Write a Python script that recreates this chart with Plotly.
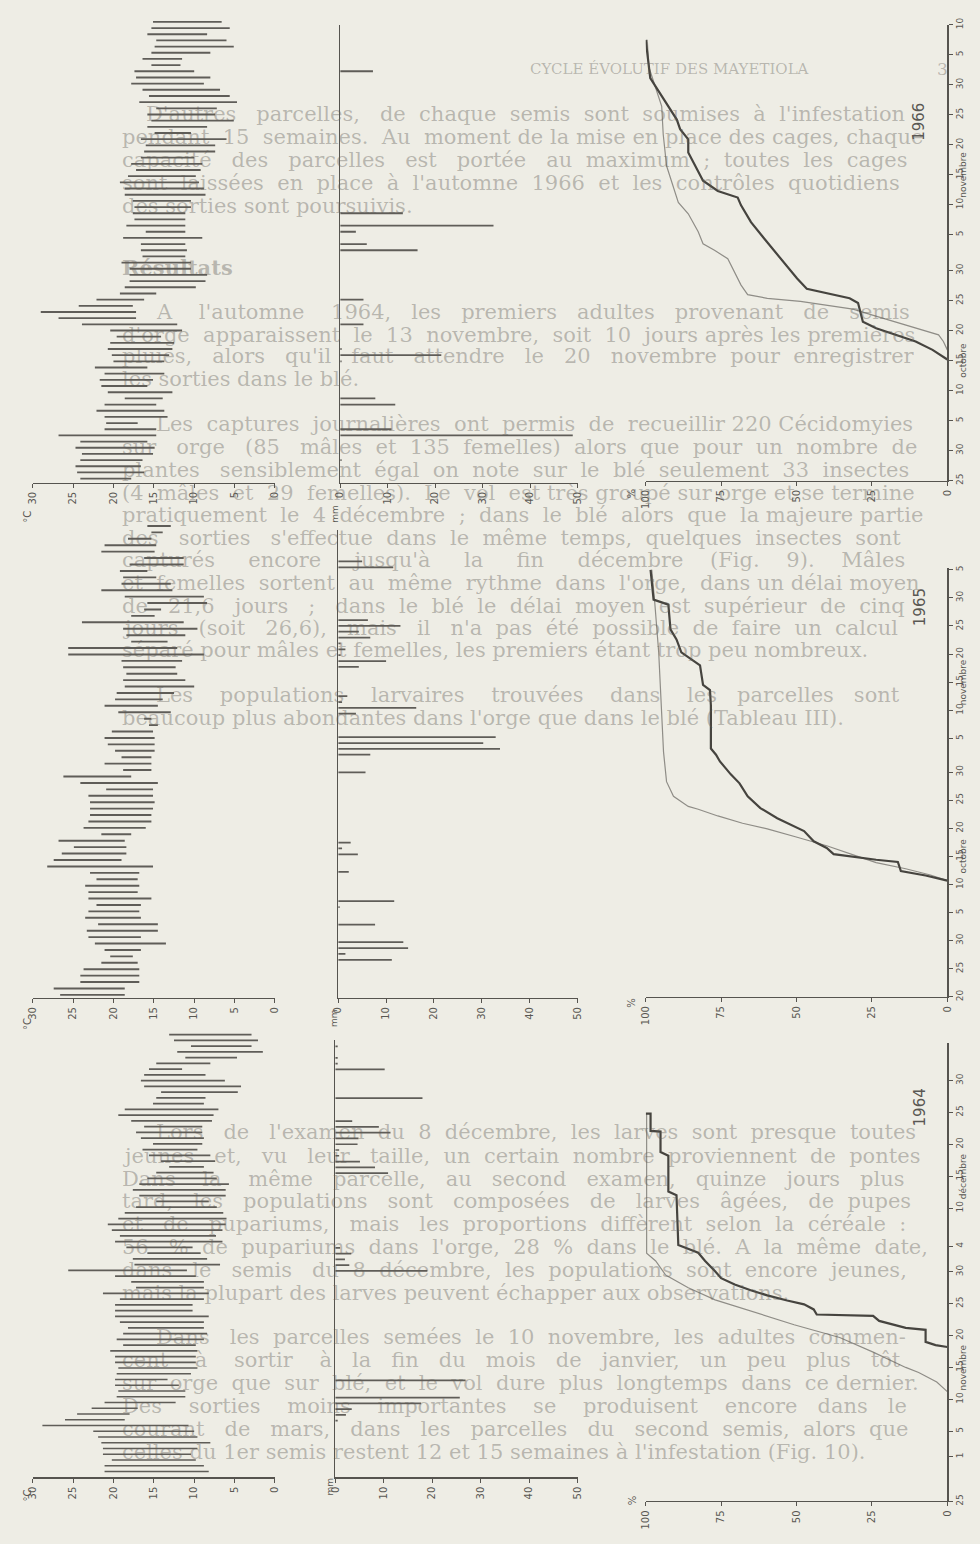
import plotly.graph_objects as go

W, H = 980, 1544
BG = "#eeede5"
INK = "#56544f"
BAR = "#5f5d58"
TXT = "#5a5853"
GHOST = "rgba(95,92,85,0.38)"

# ------------------------------------------------------------------ data
# Daily temperature ranges (°C), listed from the latest day (top) to the earliest (bottom)
T66_MAX = [15.1, 15.3, 15.8, 14.7, 14.9, 15.3, 16.4, 15.3, 17.4, 17.2, 17.8, 16.4, 15.6, 16.8, 14.7,
           15.8, 15.3, 15.8, 14.9, 16.6, 16.0, 16.2, 16.6, 17.8, 17.2, 18.2, 19.2, 18.6, 18.6, 17.6,
           17.4, 17.6, 17.4, 18.4, 16.0, 18.8, 16.6, 16.6, 16.4, 19.0, 18.0, 18.0, 18.0, 18.6, 19.2,
           22.1, 24.3, 29.0, 26.8, 23.9, 20.4, 19.6, 20.4, 20.7, 20.2, 20.0, 22.3, 21.1, 21.7, 21.5,
           20.7, 18.6, 21.1, 22.1, 21.1, 20.9, 21.1, 26.8, 24.1, 24.7, 23.9, 24.1, 24.7, 24.5, 24.1]
T66_MIN = [6.6, 5.6, 8.4, 6.0, 5.1, 8.0, 11.5, 11.7, 10.0, 8.0, 8.8, 6.8, 5.6, 4.7, 7.2,
           7.4, 5.1, 8.4, 10.4, 6.0, 7.4, 7.4, 10.0, 9.0, 9.2, 9.8, 9.4, 8.8, 8.6, 10.4,
           10.4, 11.1, 11.1, 11.1, 11.1, 9.0, 11.1, 10.9, 11.1, 10.4, 10.4, 8.4, 8.6, 9.8, 14.7,
           16.2, 17.6, 17.2, 17.2, 12.1, 11.5, 14.1, 12.5, 12.7, 13.1, 13.7, 15.8, 13.7, 15.1, 15.8,
           12.7, 13.9, 14.7, 13.7, 13.3, 17.0, 14.7, 14.7, 15.8, 14.9, 15.1, 16.4, 16.6, 16.2, 17.8]

T65_MAX = [15.8, 15.3, 18.2, 21.1, 21.5, 16.2, 18.0, 19.2, 18.8, 19.0, 21.5, 18.6, 15.8, 16.2, 17.8,
           23.9, 18.8, 18.4, 17.8, 25.6, 25.6, 19.0, 18.8, 18.4, 18.8, 18.6, 19.6, 19.8, 21.1, 19.4,
           16.2, 15.6, 20.2, 21.1, 20.7, 19.8, 19.0, 21.1, 18.8, 26.2, 24.1, 20.9, 23.1, 22.9, 22.9,
           22.9, 23.1, 23.7, 21.5, 26.8, 24.9, 26.4, 27.4, 28.2, 22.9, 22.1, 23.5, 23.1, 23.1, 22.1,
           23.1, 23.5, 21.9, 23.3, 23.1, 22.3, 21.1, 20.4, 21.5, 23.7, 24.1, 24.1, 27.4, 26.6]
T65_MIN = [12.9, 13.9, 15.3, 14.7, 14.9, 11.3, 11.3, 15.8, 14.7, 12.9, 12.7, 8.8, 8.4, 14.1, 14.9,
           11.3, 9.6, 11.1, 13.3, 12.1, 8.8, 11.5, 12.3, 12.1, 11.1, 10.0, 12.5, 13.9, 14.5, 12.9,
           15.3, 14.5, 15.1, 14.9, 14.9, 14.9, 15.3, 15.3, 15.3, 17.8, 14.5, 15.1, 15.1, 14.9, 15.1,
           15.3, 15.3, 16.0, 17.8, 18.6, 18.4, 18.4, 19.0, 15.1, 16.8, 17.0, 16.8, 17.0, 15.3, 16.6,
           16.8, 16.6, 14.5, 14.5, 16.6, 13.5, 16.6, 17.6, 17.0, 16.8, 16.8, 16.8, 18.6, 18.6]

T64_MAX = [13.1, 12.5, 10.4, 12.1, 11.1, 14.7, 15.6, 16.2, 16.6, 16.2, 14.1, 14.7, 15.1, 18.6, 19.4,
           17.8, 16.2, 17.2, 16.6, 15.1, 16.4, 15.6, 14.1, 13.1, 14.7, 15.8, 16.8, 17.6, 16.8, 14.7,
           17.2, 18.6, 19.4, 20.7, 20.2, 19.2, 19.8, 18.4, 15.8, 17.6, 17.4, 25.6, 19.8, 17.8, 17.2,
           21.3, 19.2, 19.8, 19.8, 19.8, 19.2, 18.2, 18.8, 19.6, 18.8, 20.4, 19.8, 19.8, 19.4, 19.6,
           19.8, 19.8, 19.4, 19.6, 21.1, 22.7, 24.5, 26.0, 28.8, 22.5, 21.9, 21.5, 21.3, 21.3, 20.2,
           21.1, 21.1]
T64_MIN = [2.9, 2.1, 2.9, 1.5, 4.7, 8.0, 11.5, 8.6, 6.2, 4.2, 4.6, 8.6, 8.8, 7.0, 7.6,
           7.8, 9.0, 9.0, 8.8, 9.0, 9.6, 8.0, 7.4, 8.8, 7.6, 7.2, 5.7, 6.1, 6.1, 8.2,
           7.2, 6.4, 6.0, 6.1, 6.5, 7.3, 6.5, 10.2, 9.2, 8.4, 6.8, 10.9, 9.8, 8.8, 8.8,
           8.2, 8.8, 10.2, 10.2, 8.2, 8.8, 8.8, 8.4, 8.8, 9.8, 9.6, 9.8, 9.8, 9.6, 10.4,
           13.3, 11.9, 11.1, 11.1, 12.3, 17.0, 18.0, 18.6, 10.7, 10.0, 9.6, 8.0, 9.6, 10.4, 9.8,
           8.8, 8.2]

# Daily rainfall (mm): day index from the start of each panel
RAIN66_DAY = [3, 7, 8, 12, 13, 19, 20, 21, 25, 29, 37, 38, 40, 41, 43, 66]
RAIN66_MM = [0.3, 49.0, 10.8, 11.6, 7.4, 0.3, 21.3, 0.3, 4.9, 4.9, 16.3, 5.6, 3.3, 32.3, 13.2, 6.9]

RAIN65_DAY = [6, 7, 8, 9, 12, 15, 16, 21, 24, 25, 26, 38, 41, 42, 43, 44, 48, 49, 50, 51,
              56, 57, 58, 59, 60, 61, 62, 63, 64, 73, 74]
RAIN65_MM = [11.2, 1.5, 14.6, 13.6, 7.7, 0.3, 11.7, 2.2, 4.1, 0.8, 2.6, 5.7, 6.7, 33.8, 30.3, 32.9,
             3.7, 16.3, 0.8, 1.9, 4.3, 10.0, 0.5, 1.5, 0.5, 6.7, 4.3, 13.0, 6.2, 11.5, 5.0]

RAIN64_DAY = [9, 10, 11, 12, 13, 16, 35, 36, 37, 38, 39, 52, 53, 54, 55, 56, 57, 58, 59, 60,
              61, 65, 70, 71, 72, 74]
RAIN64_MM = [0.5, 2.2, 3.4, 17.7, 25.7, 26.9, 19.0, 2.9, 2.0, 3.3, 1.0, 10.9, 8.2, 5.1, 0.8, 0.8,
             4.6, 4.8, 11.4, 9.0, 3.5, 18.0, 10.2, 0.5, 0.5, 0.5]

# Cumulative emergence (%): thick line and thin line, day index from the panel start
P66_THICK_DAY = [20.2, 21.8, 23.2, 24.3, 25.4, 26.5, 28.2, 29.6, 30.4, 31.2, 32.0, 33.7, 37.0, 40.4,
                 43.1, 45.9, 47.2, 48.3, 50.0, 52.5, 54.7, 56.9, 58.6, 60.2, 62.4, 64.4, 67.1, 73.5]
P66_THICK_PCT = [0, 4.9, 10.5, 17.1, 23.6, 28.0, 28.9, 29.6, 32.4, 40.0, 46.6, 49.8, 55.3, 60.8,
                 65.1, 68.4, 69.5, 76.1, 81.0, 83.7, 85.9, 85.9, 88.6, 89.7, 92.5, 95.2, 98.5, 100]
P66_THIN_DAY = [21.8, 23.2, 24.3, 25.1, 26.2, 27.6, 28.6, 29.3, 29.9, 30.4, 31.0, 32.6, 34.8, 37.0,
                38.4, 39.5, 41.5, 44.5, 46.4, 48.9, 52.5, 57.7, 62.4, 64.1, 66.6, 69.0, 73.5]
P66_THIN_PCT = [0, 1.3, 2.9, 8.4, 16.0, 24.8, 31.3, 40.0, 48.7, 59.7, 66.2, 68.4, 70.6, 72.8,
                77.2, 81.0, 82.6, 85.9, 89.2, 90.8, 93.1, 94.2, 94.7, 95.8, 97.4, 99.0, 99.5]

P65_THICK_DAY = [20.7, 21.6, 22.4, 24.0, 24.4, 25.4, 26.5, 27.7, 29.5, 30.7, 31.8, 33.6, 35.7, 38.0,
                 39.6, 41.9, 43.1, 44.2, 51.9, 54.6, 55.5, 59.0, 60.4, 61.3, 63.6, 65.4, 69.8, 70.7, 76.0]
P65_THICK_PCT = [0, 7.2, 15.4, 16.4, 23.6, 37.7, 40.0, 44.3, 47.5, 52.1, 56.4, 62.0, 66.2, 68.9,
                 71.8, 75.4, 76.7, 78.4, 78.4, 78.7, 81.0, 82.0, 85.9, 88.2, 89.8, 91.8, 92.5, 97.4, 98.4]
P65_THIN_DAY = [20.7, 21.7, 22.8, 23.9, 25.1, 26.9, 28.4, 29.9, 30.9, 32.2, 33.4, 33.9, 35.7, 38.3,
                43.6, 52.5, 61.3, 70.1, 76.0]
P65_THIN_PCT = [0, 5.6, 13.8, 23.6, 30.2, 40.0, 49.8, 59.7, 67.9, 76.1, 82.6, 85.9, 90.8, 93.1,
                94.1, 94.8, 95.7, 97.0, 98.0]

P64_THICK_DAY = [24.2, 24.5, 25.0, 26.9, 27.2, 28.3, 29.1, 29.3, 30.1, 30.9, 31.5, 32.3, 33.1, 34.0,
                 35.0, 36.1, 37.7, 39.0, 40.2, 48.0, 48.6, 54.2, 54.8, 58.0, 58.1, 60.8, 60.8]
P64_THICK_PCT = [0, 3.9, 7.2, 7.2, 13.8, 22.6, 24.6, 43.3, 44.3, 47.5, 53.1, 59.7, 65.2, 70.5,
                 75.0, 77.0, 80.3, 82.6, 89.2, 89.8, 92.5, 92.5, 95.1, 95.1, 98.4, 98.4, 100]
P64_THIN_DAY = [17.2, 18.7, 20.2, 21.0, 23.4, 25.7, 27.7, 29.6, 31.6, 33.5, 35.5, 37.7, 38.9, 60.8]
P64_THIN_PCT = [0, 3.5, 9.5, 13.8, 24.6, 35.7, 50.8, 63.9, 77.0, 85.9, 93.4, 96.7, 99.7, 99.7]

# Date tick labels (day index from panel start) and month names
D66_TICK = [0, 5, 10, 15, 20, 25, 30, 35, 41, 46, 51, 56, 61, 66, 71, 76]
D66_TEXT = ["25", "30", "5", "10", "15", "20", "25", "30", "5", "10", "15", "20", "25", "30", "5", "10"]
D65_TICK = [0, 5, 10, 15, 20, 25, 30, 35, 40, 46, 51, 56, 61, 66, 71, 76]
D65_TEXT = ["20", "25", "30", "5", "10", "15", "20", "25", "30", "5", "10", "15", "20", "25", "30", "5"]
D64_TICK = [0, 7, 11, 16, 21, 26, 31, 36, 40, 46, 51, 56, 61, 66, 72]
D64_TEXT = ["25", "1", "5", "10", "15", "20", "25", "30", "4", "10", "15", "20", "25", "30", "5"]
MONTHS66 = [(20, "octobre"), (51, "novembre")]
MONTHS65 = [(25, "octobre"), (56, "novembre")]
MONTHS64 = [(21, "novembre"), (51, "décembre")]

TEMP_TICKS = [30, 25, 20, 15, 10, 5, 0]
RAIN_TICKS = [0, 10, 20, 30, 40, 50]
PCT_TICKS = [100, 75, 50, 25, 0]
YEARS = ["1966", "1965", "1964"]

# ------------------------------------------------------------------ geometry helpers
def xdom(l, r):
    return [l / W, r / W]


def ydom(top, bottom):
    return [1 - bottom / H, 1 - top / H]


def yrng(top, bottom, p0, ppd):
    # day 0 sits at pixel row p0, ppd pixels per day going upwards
    return [-(bottom - p0) / ppd, (p0 - top) / ppd]


# per panel: temp, rain, pct  -> (x left, x right, y top, y bottom, y of day 0, px per day)
GEOM = [
    dict(temp=(27, 272, 12, 479, 475, 6.216), rain=(338, 578, 18, 479, 475, 6.216),
         pct=(647, 952, 18, 477, 477, 6.04), year_y=95),
    dict(temp=(27, 272, 519, 998, 995, 6.47), rain=(336, 578, 527, 998, 995, 5.9),
         pct=(647, 952, 565, 997, 997, 5.66), year_y=605),
    dict(temp=(27, 272, 1030, 1481, 1475, 5.79), rain=(333, 578, 1040, 1481, 1476, 5.8),
         pct=(647, 952, 1043, 1505, 1505, 6.42), year_y=1130),
]

DATA = [
    dict(tmax=T66_MAX, tmin=T66_MIN, rd=RAIN66_DAY, rm=RAIN66_MM,
         thk=(P66_THICK_DAY, P66_THICK_PCT), thn=(P66_THIN_DAY, P66_THIN_PCT),
         tick=(D66_TICK, D66_TEXT), months=MONTHS66),
    dict(tmax=T65_MAX, tmin=T65_MIN, rd=RAIN65_DAY, rm=RAIN65_MM,
         thk=(P65_THICK_DAY, P65_THICK_PCT), thn=(P65_THIN_DAY, P65_THIN_PCT),
         tick=(D65_TICK, D65_TEXT), months=MONTHS65),
    dict(tmax=T64_MAX, tmin=T64_MIN, rd=RAIN64_DAY, rm=RAIN64_MM,
         thk=(P64_THICK_DAY, P64_THICK_PCT), thn=(P64_THIN_DAY, P64_THIN_PCT),
         tick=(D64_TICK, D64_TEXT), months=MONTHS64),
]

fig = go.Figure()
layout = {}
annotations = []
TICKFONT = dict(family="DejaVu Sans", size=10, color=TXT)


def axname(i):
    return "" if i == 1 else str(i)


for p, (g, d) in enumerate(zip(GEOM, DATA)):
    base = p * 3
    it, ir, ip = base + 1, base + 2, base + 3

    # ---------- temperature
    xl, xr, yt, yb, p0, ppd = g["temp"]
    tmax = d["tmax"][::-1]
    tmin = d["tmin"][::-1]
    days = list(range(len(tmax)))
    fig.add_trace(go.Bar(
        y=days, x=[a - b for a, b in zip(tmax, tmin)], base=tmin, orientation="h",
        width=0.3, marker=dict(color=BAR, line=dict(width=0)),
        xaxis="x" + axname(it), yaxis="y" + axname(it), showlegend=False))
    layout["xaxis" + axname(it)] = dict(
        domain=xdom(xl, xr), range=[30, 0], anchor="y" + axname(it),
        tickvals=TEMP_TICKS, ticks="outside", ticklen=4, tickcolor=INK, tickangle=-90,
        showline=True, linecolor=INK, linewidth=1.2, showgrid=False, zeroline=False,
        tickfont=TICKFONT)
    layout["yaxis" + axname(it)] = dict(
        domain=ydom(yt, yb), range=yrng(yt, yb, p0, ppd), anchor="x" + axname(it),
        visible=False, showgrid=False, zeroline=False)
    annotations.append(dict(x=14 / W, y=1 - (yb + 26) / H, xref="paper", yref="paper",
                            text="°C", showarrow=False, textangle=-90,
                            font=dict(family="DejaVu Sans", size=10, color=TXT)))

    # ---------- rain
    xl, xr, yt, yb, p0, ppd = g["rain"]
    fig.add_trace(go.Bar(
        y=d["rd"], x=d["rm"], orientation="h", width=0.3,
        marker=dict(color=BAR, line=dict(width=0)),
        xaxis="x" + axname(ir), yaxis="y" + axname(ir), showlegend=False))
    layout["xaxis" + axname(ir)] = dict(
        domain=xdom(xl, xr), range=[0, 50], anchor="y" + axname(ir),
        tickvals=RAIN_TICKS, ticks="outside", ticklen=4, tickcolor=INK, tickangle=-90,
        showline=True, linecolor=INK, linewidth=1.2, showgrid=False, zeroline=False,
        tickfont=TICKFONT)
    layout["yaxis" + axname(ir)] = dict(
        domain=ydom(yt, yb), range=yrng(yt, yb, p0, ppd), anchor="x" + axname(ir),
        showline=True, linecolor=INK, linewidth=1.2, showticklabels=False, ticks="",
        showgrid=False, zeroline=False)
    annotations.append(dict(x=(xl - 5) / W, y=1 - (yb + 20) / H, xref="paper", yref="paper",
                            text="mm", showarrow=False, textangle=-90,
                            font=dict(family="DejaVu Sans", size=9, color=TXT)))

    # ---------- cumulative %
    xl, xr, yt, yb, p0, ppd = g["pct"]
    fig.add_trace(go.Scatter(
        y=d["thn"][0], x=d["thn"][1], mode="lines",
        line=dict(color="#8f8d87", width=1.2),
        xaxis="x" + axname(ip), yaxis="y" + axname(ip), showlegend=False))
    fig.add_trace(go.Scatter(
        y=d["thk"][0], x=d["thk"][1], mode="lines",
        line=dict(color="#46443f", width=2.2),
        xaxis="x" + axname(ip), yaxis="y" + axname(ip), showlegend=False))
    layout["xaxis" + axname(ip)] = dict(
        domain=xdom(xl, xr), range=[100, 0], anchor="y" + axname(ip),
        tickvals=PCT_TICKS, ticks="outside", ticklen=4, tickcolor=INK, tickangle=-90,
        showline=True, linecolor=INK, linewidth=1.2, showgrid=False, zeroline=False,
        tickfont=TICKFONT)
    layout["yaxis" + axname(ip)] = dict(
        domain=ydom(yt, yb), range=yrng(yt, yb, p0, ppd), anchor="x" + axname(ip),
        side="right", tickvals=d["tick"][0], ticktext=d["tick"][1], tickangle=-90,
        ticks="outside", ticklen=4, tickcolor=INK,
        showline=True, linecolor=INK, linewidth=1.2, showgrid=False, zeroline=False,
        tickfont=dict(family="DejaVu Sans", size=9, color=TXT))
    annotations.append(dict(x=(xl - 14) / W, y=1 - (yb + 6) / H, xref="paper", yref="paper",
                            text="%", showarrow=False, textangle=-90,
                            font=dict(family="DejaVu Sans", size=10, color=TXT)))
    for day, name in d["months"]:
        annotations.append(dict(x=975 / W, y=day, xref="paper", yref="y" + axname(ip),
                                text=name, showarrow=False, textangle=-90,
                                font=dict(family="DejaVu Sans", size=9, color=TXT)))
    annotations.append(dict(x=935 / W, y=1 - g["year_y"] / H, xref="paper", yref="paper",
                            text=YEARS[p], showarrow=False, textangle=-90,
                            font=dict(family="DejaVu Sans", size=15, color=TXT)))

# ------------------------------------------------------------------ show-through text of the page
# (y, x, font size, justified, text)
PAGE_TEXT = [
    (62, 528, 15, False, "CYCLE ÉVOLUTIF DES MAYETIOLA"),
    (62, 940, 17, False, "3"),
    (108, 140, 21, True, "D'autres parcelles, de chaque semis sont soumises à l'infestation"),
    (131, 115, 21, True, "pendant 15 semaines. Au moment de la mise en place des cages, chaque"),
    (154, 115, 21, True, "capacité des parcelles est portée au maximum ; toutes les cages"),
    (177, 115, 21, True, "sont laissées en place à l'automne 1966 et les contrôles quotidiens"),
    (200, 115, 21, False, "des sorties sont poursuivis."),
    (262, 115, 21, False, "<b>Résultats</b>"),
    (307, 150, 21, True, "A l'automne 1964, les premiers adultes provenant de semis"),
    (330, 115, 21, True, "d'orge apparaissent le 13 novembre, soit 10 jours après les premières"),
    (352, 115, 21, True, "pluies, alors qu'il faut attendre le 20 novembre pour enregistrer"),
    (375, 115, 21, False, "les sorties dans le blé."),
    (420, 150, 21, True, "Les captures journalières ont permis de recueillir 220 Cécidomyies"),
    (443, 115, 21, True, "sur orge (85 mâles et 135 femelles) alors que pour un nombre de"),
    (466, 115, 21, True, "plantes sensiblement égal on note sur le blé seulement 33 insectes"),
    (489, 115, 21, True, "(4 mâles et 29 femelles). Le vol est très groupé sur orge et se termine"),
    (512, 115, 21, True, "pratiquement le 4 décembre ; dans le blé alors que la majeure partie"),
    (535, 115, 21, True, "des sorties s'effectue dans le même temps, quelques insectes sont"),
    (557, 115, 21, True, "capturés encore jusqu'à la fin décembre (Fig. 9). Mâles"),
    (580, 115, 21, True, "et femelles sortent au même rythme dans l'orge, dans un délai moyen"),
    (603, 115, 21, True, "de 21,6 jours ; dans le blé le délai moyen est supérieur de cinq"),
    (625, 115, 21, True, "jours (soit 26,6), mais il n'a pas été possible de faire un calcul"),
    (648, 115, 21, False, "séparé pour mâles et femelles, les premiers étant trop peu nombreux."),
    (693, 150, 21, True, "Les populations larvaires trouvées dans les parcelles sont"),
    (716, 115, 21, False, "beaucoup plus abondantes dans l'orge que dans le blé (Tableau III)."),
    (1133, 150, 21, True, "Lors de l'examen du 8 décembre, les larves sont presque toutes"),
    (1157, 115, 21, True, "jeunes et, vu leur taille, un certain nombre proviennent de pontes"),
    (1180, 115, 21, True, "Dans la même parcelle, au second examen, quinze jours plus"),
    (1203, 115, 21, True, "tard, les populations sont composées de larves âgées, de pupes"),
    (1226, 115, 21, True, "et de pupariums, mais les proportions diffèrent selon la céréale :"),
    (1249, 115, 21, True, "56 % de pupariums dans l'orge, 28 % dans le blé. A la même date,"),
    (1272, 115, 21, True, "dans le semis du 8 décembre, les populations sont encore jeunes,"),
    (1295, 115, 21, False, "mais la plupart des larves peuvent échapper aux observations."),
    (1340, 150, 21, True, "Dans les parcelles semées le 10 novembre, les adultes commen-"),
    (1363, 115, 21, True, "cent à sortir à la fin du mois de janvier, un peu plus tôt"),
    (1386, 115, 21, True, "sur orge que sur blé, et le vol dure plus longtemps dans ce dernier."),
    (1409, 115, 21, True, "Des sorties moins importantes se produisent encore dans le"),
    (1432, 115, 21, True, "courant de mars, dans les parcelles du second semis, alors que"),
    (1455, 115, 21, False, "celles du 1er semis restent 12 et 15 semaines à l'infestation (Fig. 10)."),
]


def est_width(s, size):
    """Rough advance width of a string in DejaVu Serif (pixels)."""
    w = 0.0
    for c in s:
        if c in " .,;:'()-":
            w += 0.32
        elif c in "iljtfrI":
            w += 0.40
        elif c in "mwMW":
            w += 0.92
        elif c.isupper():
            w += 0.72
        elif c.isdigit():
            w += 0.64
        else:
            w += 0.58
    return 1.05 * w * size


def justify(text, x0, size, full, right=950):
    """Widen word gaps with no-break spaces so the line reaches the right margin."""
    if not full:
        return text
    words = text.split(" ")
    gaps = len(words) - 1
    if gaps <= 0:
        return text
    n = int((right - x0 - est_width(text, size)) / (0.37 * size))
    if n <= 0:
        return text
    out = words[0]
    for i, w in enumerate(words[1:]):
        k = n // gaps + (1 if i < n % gaps else 0)
        out += " " + "\u00a0" * k + w
    return out


for y, x, size, full, text in PAGE_TEXT:
    annotations.append(dict(x=x / W, y=1 - y / H, xref="paper", yref="paper",
                            text=justify(text, x, size, full),
                            showarrow=False, xanchor="left", yanchor="middle",
                            font=dict(family="DejaVu Serif", size=size, color=GHOST)))

fig.update_layout(
    width=W, height=H, autosize=False,
    margin=dict(l=0, r=0, t=0, b=0),
    paper_bgcolor=BG, plot_bgcolor="rgba(0,0,0,0)",
    barmode="overlay", showlegend=False, hovermode=False,
    annotations=annotations,
    **layout,
)

fig.write_html(
    "out.html",
    config={"displayModeBar": False, "staticPlot": True},
    post_script="document.body.style.margin='0px';document.body.style.overflow='hidden';"
                "document.body.style.background='" + BG + "';",
)
